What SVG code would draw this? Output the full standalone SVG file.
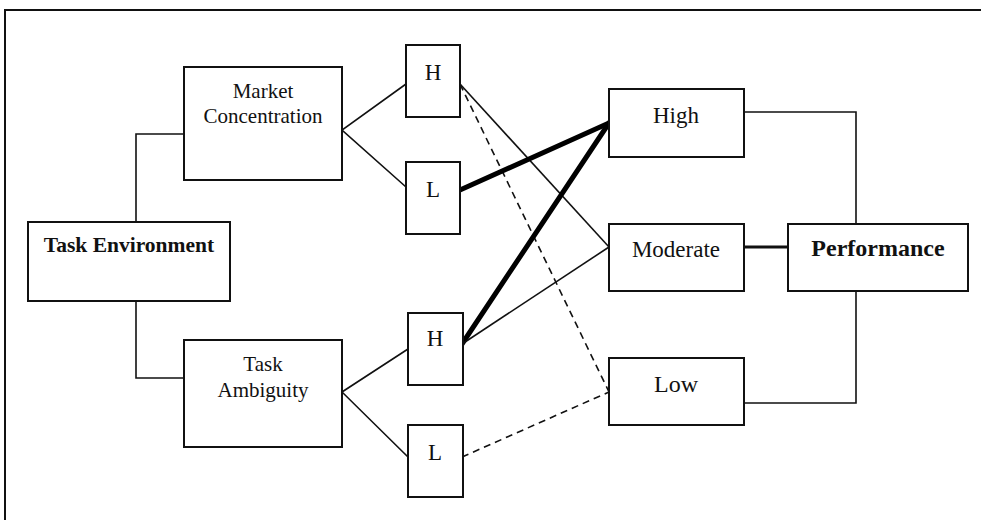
<svg xmlns="http://www.w3.org/2000/svg" width="981" height="520" viewBox="0 0 981 520">
<style>
.box{fill:#fff;stroke:#111;stroke-width:2}
.t{font-family:"Liberation Serif","Times New Roman",serif;font-size:21px;fill:#111;text-anchor:middle}
.b{font-weight:bold}
.ln{fill:none;stroke:#111;stroke-width:1.6}
.thick{fill:none;stroke:#000;stroke-width:5;stroke-linecap:round}
.dash{fill:none;stroke:#111;stroke-width:1.6;stroke-dasharray:7,5}
</style>
<rect width="981" height="520" fill="#fff"/>
<path d="M5,520 V10 H981" fill="none" stroke="#111" stroke-width="2"/>
<g id="connectors">
<path class="ln" d="M136,222 V134 H184"/>
<path class="ln" d="M136,301 V378 H184"/>
<path class="ln" d="M406,84 L342,130 L406,187"/>
<path class="ln" d="M408,349 L342,392 L408,457"/>
<path class="ln" d="M744,112 H856 V224"/>
<path class="ln" d="M744,403 H856 V291"/>
<path class="ln" d="M744,247 H788" style="stroke-width:3"/>
<path class="ln" d="M460,84 L609,247"/>
<path class="dash" d="M460,84 L609,392"/>
<path class="thick" d="M460,190 L609,123"/>
<path class="thick" d="M462,344 L609,123"/>
<path class="ln" d="M462,344 L609,247"/>
<path class="dash" d="M462,457 L609,392"/>
</g>
<g id="task-environment"><rect class="box" x="28" y="222" width="202" height="79"/><text class="t b" x="129" y="252" style="font-size:21.5px">Task Environment</text></g>
<g id="market-concentration"><rect class="box" x="184" y="67" width="158" height="113"/><text class="t" x="263" y="98">Market</text><text class="t" x="263" y="123">Concentration</text></g>
<g id="task-ambiguity"><rect class="box" x="184" y="340" width="158" height="107"/><text class="t" x="263" y="371">Task</text><text class="t" x="263" y="397">Ambiguity</text></g>
<g id="mc-high"><rect class="box" x="406" y="45" width="54" height="72"/><text class="t" x="433" y="80" style="font-size:23px">H</text></g>
<g id="mc-low"><rect class="box" x="406" y="162" width="54" height="72"/><text class="t" x="433" y="197" style="font-size:23px">L</text></g>
<g id="ta-high"><rect class="box" x="408" y="313" width="55" height="72"/><text class="t" x="435" y="346" style="font-size:23px">H</text></g>
<g id="ta-low"><rect class="box" x="408" y="425" width="55" height="72"/><text class="t" x="435" y="460" style="font-size:23px">L</text></g>
<g id="high"><rect class="box" x="609" y="89" width="135" height="68"/><text class="t" x="676" y="123" style="font-size:23px">High</text></g>
<g id="moderate"><rect class="box" x="609" y="224" width="135" height="67"/><text class="t" x="676" y="257" style="font-size:23px">Moderate</text></g>
<g id="low"><rect class="box" x="609" y="358" width="135" height="67"/><text class="t" x="676" y="392" style="font-size:24px">Low</text></g>
<g id="performance"><rect class="box" x="788" y="224" width="180" height="67"/><text class="t b" x="878" y="256" style="font-size:24px">Performance</text></g>
</svg>
